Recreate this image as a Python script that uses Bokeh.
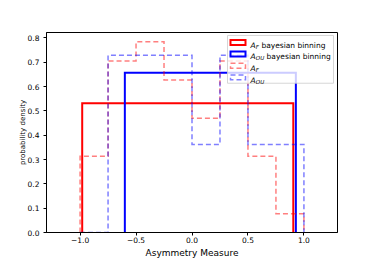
from bokeh.plotting import figure
from bokeh.models import Range1d, FixedTicker
from bokeh.core.properties import value
from bokeh.embed import file_html
from bokeh.resources import INLINE

# ---------------- data ----------------
bayes_F_edges = [-0.981, 0.905]
bayes_F_density = [0.531]
bayes_OU_edges = [-0.600, 0.928]
bayes_OU_density = [0.657]

hist_edges = [-1.0, -0.75, -0.5, -0.25, 0.0, 0.25, 0.5, 0.75, 1.0]
hist_F_density = [0.313, 0.705, 0.784, 0.627, 0.470, 0.705, 0.313, 0.077]
hist_OU_density = [0.0, 0.728, 0.728, 0.728, 0.362, 0.728, 0.362, 0.362]

x_ticks = [-1.0, -0.5, 0.0, 0.5, 1.0]
x_tick_labels = ["\u22121.0", "\u22120.5", "0.0", "0.5", "1.0"]
y_ticks = [0.0, 0.1, 0.2, 0.3, 0.4, 0.5, 0.6, 0.7, 0.8]
y_tick_labels = ["0.0", "0.1", "0.2", "0.3", "0.4", "0.5", "0.6", "0.7", "0.8"]

legend_main = ["A", "A", "A", "A"]
legend_sub = ["F", "OU", "F", "OU"]
legend_rest = ["bayesian binning", "bayesian binning", "", ""]

x_label = "Asymmetry Measure"
y_label = "probability density"

# ---------------- layout ----------------
X0, X1 = -1.3, 1.3
Y0, Y1 = 0.0, 0.822
BL, BR, BT, BB = 46, 20, 32, 27
FRAME_W = 291
FRAME_H = 201
W = BL + FRAME_W + BR
H = BT + FRAME_H + BB

FONT = "DejaVu Sans"

p = figure(width=W, height=H, output_backend="svg", toolbar_location=None,
           x_range=Range1d(X0, X1), y_range=Range1d(Y0, Y1),
           min_border_left=BL, min_border_right=BR, min_border_top=BT,
           min_border_bottom=BB)
p.background_fill_color = "white"
p.border_fill_color = "white"
p.outline_line_color = "black"
p.outline_line_width = 1
p.outline_line_alpha = 1
p.xgrid.visible = False
p.ygrid.visible = False

for ax in (p.xaxis[0], p.yaxis[0]):
    ax.axis_line_color = "black"
    ax.major_tick_line_color = "black"
    ax.major_tick_out = 3
    ax.major_tick_in = 0
    ax.minor_tick_line_color = None
    ax.major_label_text_font = FONT
    ax.major_label_text_font_size = "7.5px"
    ax.major_label_text_color = "black"
    ax.axis_label_text_font = FONT
    ax.axis_label_text_font_style = "normal"
    ax.axis_label_text_color = "black"

p.xaxis.ticker = FixedTicker(ticks=x_ticks)
p.xaxis.major_label_overrides = dict(zip(x_ticks, x_tick_labels))
p.yaxis.ticker = FixedTicker(ticks=y_ticks)
p.yaxis.major_label_overrides = dict(zip(y_ticks, y_tick_labels))
p.xaxis.axis_label = x_label
p.yaxis.axis_label = y_label
p.xaxis.axis_label_text_font_size = "9px"
p.yaxis.axis_label_text_font_size = "7px"
p.xaxis.major_label_standoff = 1
p.yaxis.major_label_standoff = 4
p.xaxis.axis_label_standoff = 2
p.yaxis.axis_label_standoff = -2


def step_path(edges, heights):
    xs = [edges[0]]
    ys = [0.0]
    for i, h in enumerate(heights):
        xs += [edges[i], edges[i + 1]]
        ys += [h, h]
    xs.append(edges[-1])
    ys.append(0.0)
    return xs, ys


RED = "#ff0000"
BLUE = "#0000ff"
DASH = "5 3"

styles = [
    dict(color=RED, alpha=1.0, width=2, dash="solid"),
    dict(color=BLUE, alpha=1.0, width=2, dash="solid"),
    dict(color=RED, alpha=0.5, width=1.5, dash=DASH),
    dict(color=BLUE, alpha=0.5, width=1.5, dash=DASH),
]
series = [
    (bayes_F_edges, bayes_F_density),
    (bayes_OU_edges, bayes_OU_density),
    (hist_edges, hist_F_density),
    (hist_edges, hist_OU_density),
]
for (edges, dens), st in zip(series, styles):
    xs, ys = step_path(edges, dens)
    p.line(xs, ys, line_color=st["color"], line_alpha=st["alpha"],
           line_width=st["width"], line_dash=st["dash"], line_join="miter")

# ---------------- legend (matplotlib-like) ----------------
def px_x(px):
    return X0 + px * (X1 - X0) / FRAME_W


def px_y(py):
    return Y1 - py * (Y1 - Y0) / FRAME_H


p.quad(left=[px_x(181)], right=[px_x(287)], top=[px_y(3)], bottom=[px_y(51)],
       fill_color="white", fill_alpha=0.8, line_color="#cccccc", line_alpha=0.8,
       line_width=1)

LEG_FS = 7.5
SUB_FS = 5.5
char_w = {"A": 0.684, "F": 0.575, "O": 0.787, "U": 0.732}
row0, row_step = 10.0, 11.7
hx0, hx1 = 184, 199
tx = 204

for i, st in enumerate(styles):
    cy = row0 + i * row_step
    p.quad(left=[px_x(hx0)], right=[px_x(hx1)], top=[px_y(cy - 2.5)],
           bottom=[px_y(cy + 2.5)], fill_color=None, line_color=st["color"],
           line_alpha=st["alpha"], line_width=st["width"], line_dash=st["dash"],
           line_join="miter")
    a_w = sum(char_w[c] for c in legend_main[i]) * LEG_FS
    s_w = sum(char_w[c] for c in legend_sub[i]) * SUB_FS
    p.text(x=[px_x(tx)], y=[px_y(cy + 2.7)], text=[legend_main[i]],
           text_font=value(FONT), text_font_size=f"{LEG_FS}px",
           text_font_style="italic", text_baseline="alphabetic",
           text_align="left", text_color="black")
    p.text(x=[px_x(tx + a_w + 0.2)], y=[px_y(cy + 4.3)], text=[legend_sub[i]],
           text_font=value(FONT), text_font_size=f"{SUB_FS}px",
           text_font_style="italic", text_baseline="alphabetic",
           text_align="left", text_color="black")
    if legend_rest[i]:
        p.text(x=[px_x(tx + a_w + 0.2 + s_w + 0.318 * LEG_FS)], y=[px_y(cy + 2.7)],
               text=[legend_rest[i]], text_font=value(FONT),
               text_font_size=f"{LEG_FS}px", text_baseline="alphabetic",
               text_align="left", text_color="black")

open("out.html", "w").write(file_html(p, INLINE))
